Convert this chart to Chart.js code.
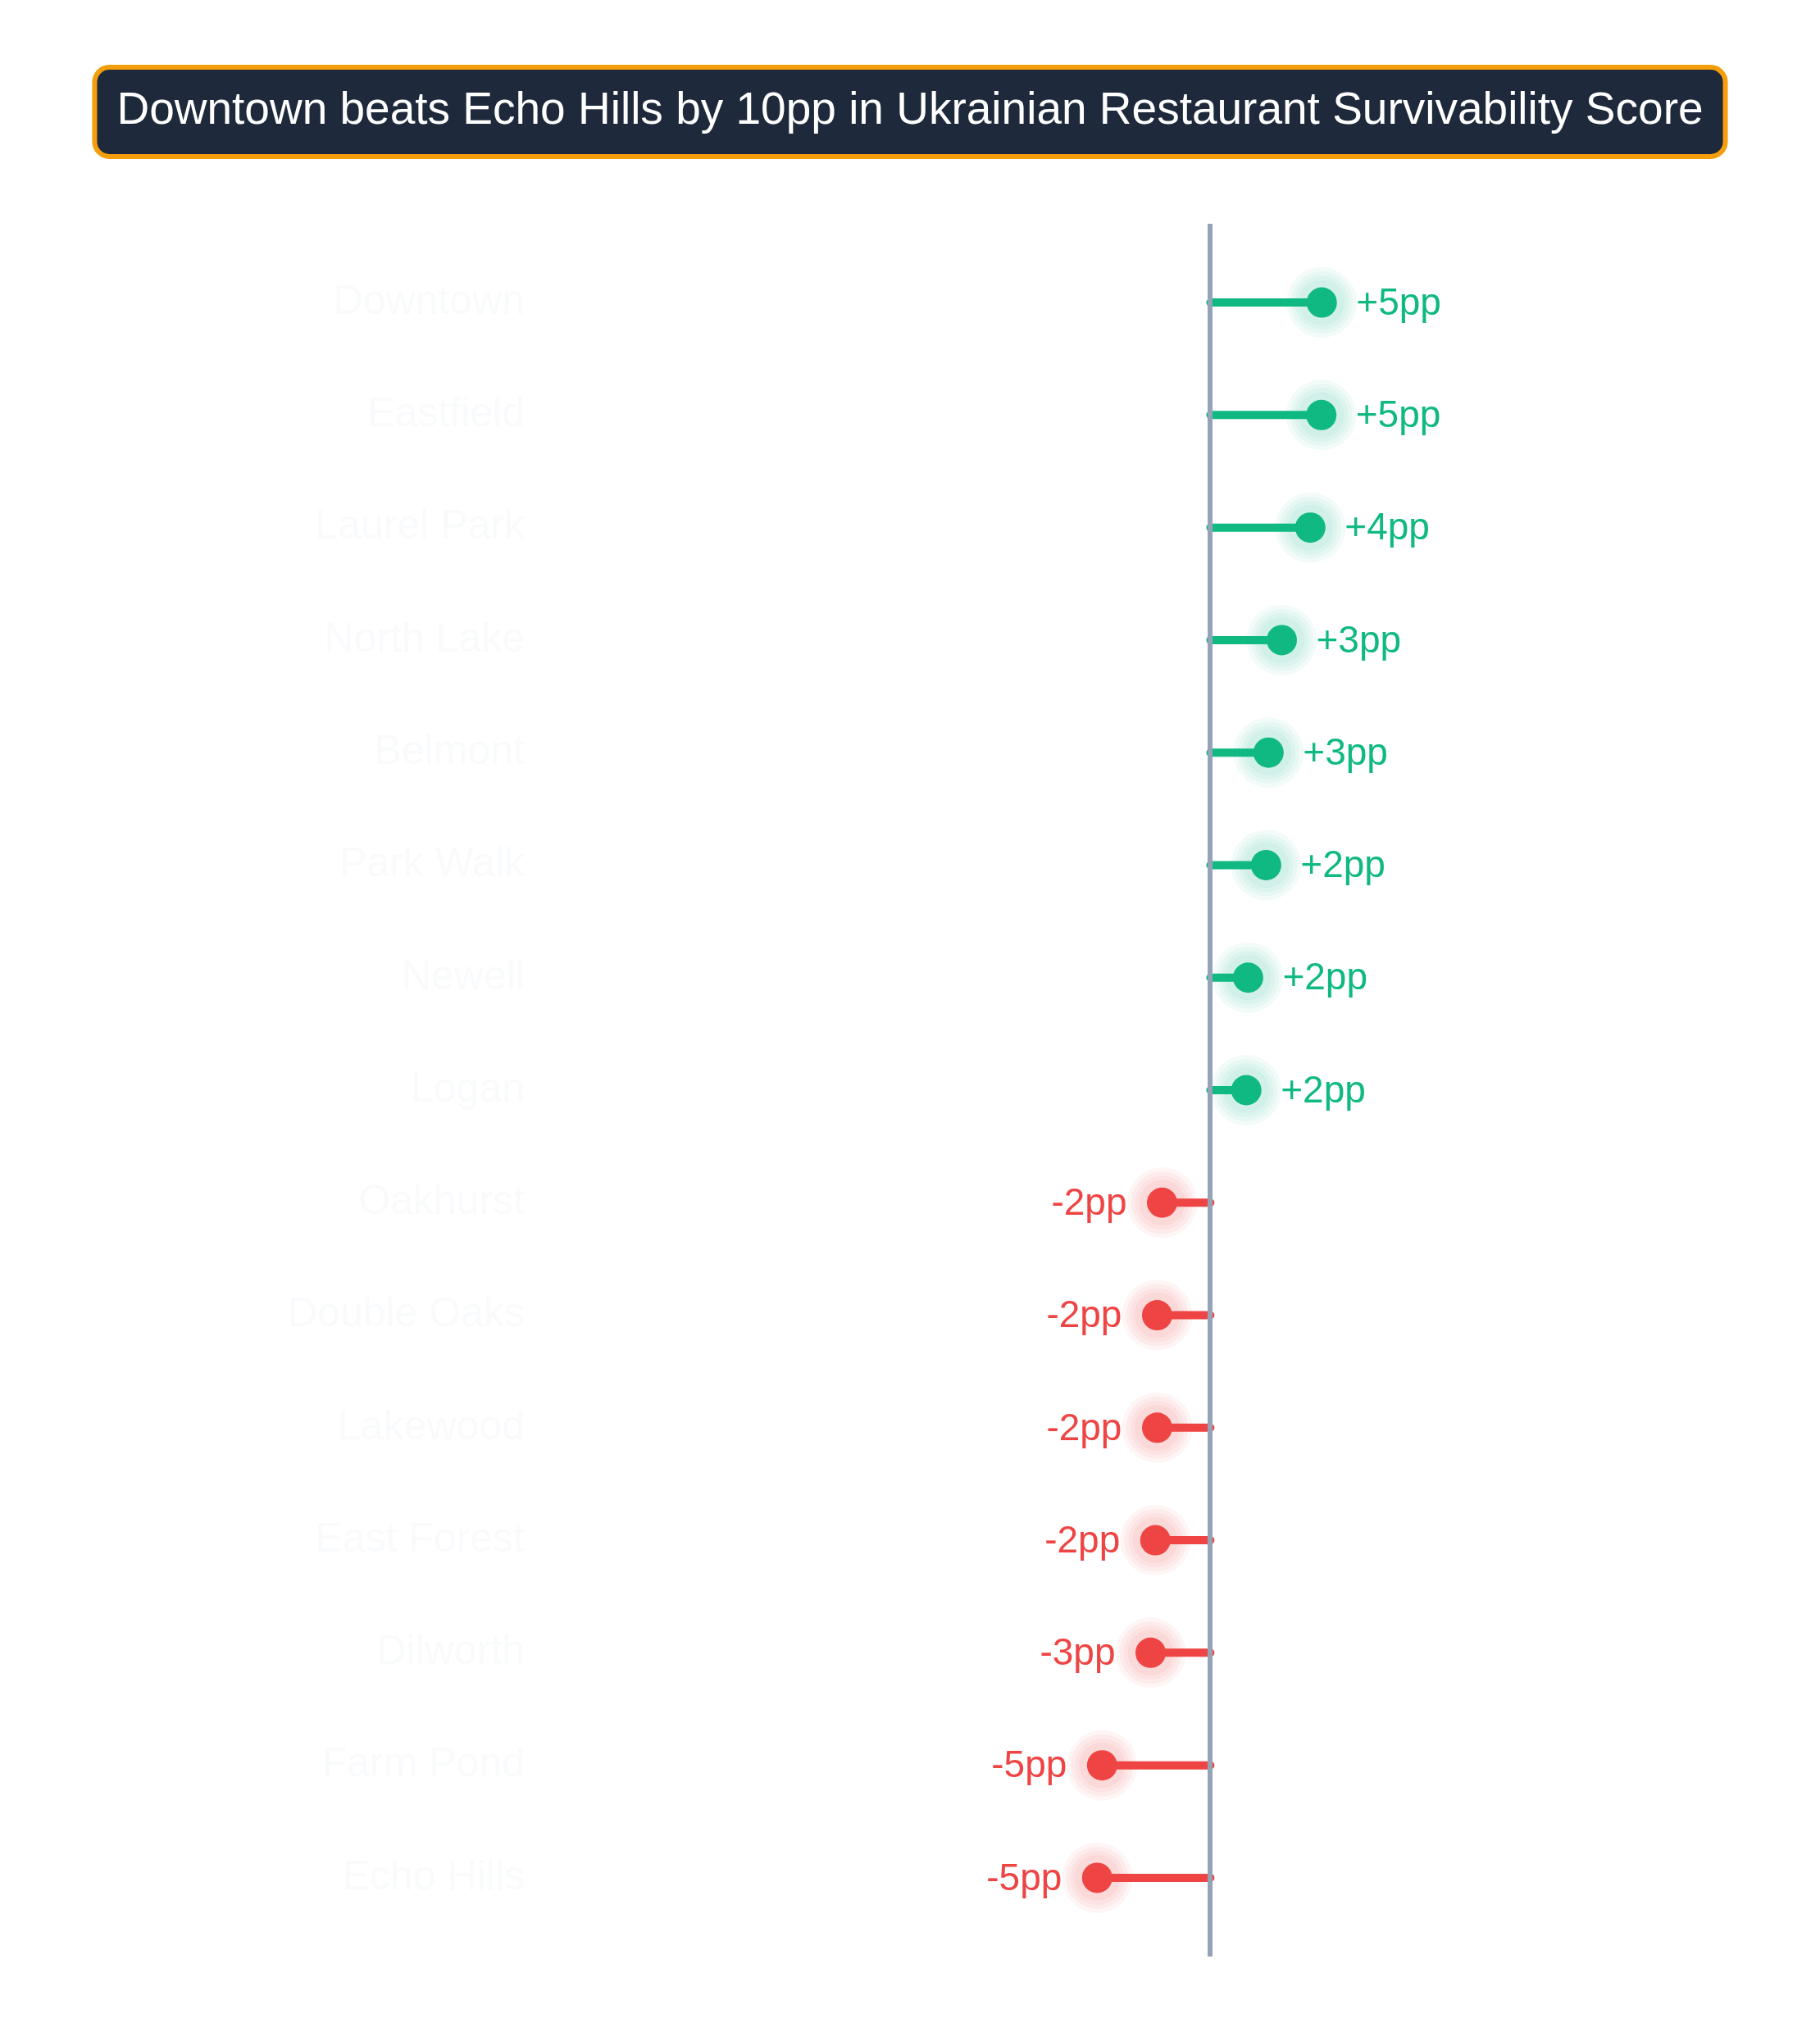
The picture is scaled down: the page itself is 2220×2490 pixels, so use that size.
<!DOCTYPE html>
<html>
<head>
<meta charset="utf-8">
<title>Ukrainian Restaurant Survivability Score</title>
<script src="https://cdn.jsdelivr.net/npm/chart.js@4.4.1/dist/chart.umd.min.js"></script>
<style>
  html, body { margin: 0; padding: 0; background: #ffffff; }
  #chart_box { width: 2220px; height: 2490px; position: relative; }
</style>
</head>
<body>
<div id="chart_box"><canvas id="gapChart"></canvas></div>
<script>
/*
----------------------
Data
----------------------

*/
var chart_title = "Downtown beats Echo Hills by 10pp in Ukrainian Restaurant Survivability Score";

var neighborhoods = [
  "Downtown",
  "Eastfield",
  "Laurel Park",
  "North Lake",
  "Belmont",
  "Park Walk",
  "Newell",
  "Logan",
  "Oakhurst",
  "Double Oaks",
  "Lakewood",
  "East Forest",
  "Dilworth",
  "Farm Pond",
  "Echo Hills"
];

// gap to the average, in percentage points
var score_gaps = [4.96, 4.94, 4.45, 3.18, 2.59, 2.48, 1.68, 1.60, -2.15, -2.37, -2.37, -2.45, -2.66, -4.82, -5.04];

var green = "#10b981";
var red = "#ef4444";

function halo_color(value, alpha) {
  return value >= 0 ? "rgba(16,185,129," + alpha + ")" : "rgba(239,68,68," + alpha + ")";
}

/*
----------------------
Builds points for the lollipop parts
----------------------

*/
function build_dots() {
  var points = [];
  for (var i = 0; i < score_gaps.length; i++) {
    points.push({ x: score_gaps[i], y: i });
  }
  return points;
}

// stems from zero to the value, split by a null point so each row is its own line
function build_stems(positive) {
  var points = [];
  for (var i = 0; i < score_gaps.length; i++) {
    var value = score_gaps[i];
    if ((value >= 0) !== positive) {
      continue;
    }
    points.push({ x: 0, y: i });
    points.push({ x: value, y: i });
    points.push({ x: 0, y: null });
  }
  return points;
}

function build_halo(radius, alpha) {
  return {
    data: build_dots(),
    pointRadius: radius,
    pointHoverRadius: radius,
    pointBorderWidth: 0,
    pointBackgroundColor: score_gaps.map(function (v) { return halo_color(v, alpha); }),
    order: 3
  };
}

function build_stem_dataset(positive) {
  return {
    data: build_stems(positive),
    showLine: true,
    spanGaps: false,
    borderColor: positive ? green : red,
    borderWidth: 10,
    borderCapStyle: "round",
    tension: 0,
    pointRadius: 0,
    pointHoverRadius: 0,
    order: 1
  };
}

var font_family = "'Liberation Sans', Arial, Helvetica, sans-serif";
var title_size = 55;

/*
----------------------
Dark rounded box behind the title
----------------------

*/
var title_box_plugin = {
  id: "title_box",
  beforeDraw: function (chart) {
    var block = chart.titleBlock;
    if (!block) {
      return;
    }
    var ctx = chart.ctx;
    ctx.save();
    ctx.font = title_size + "px " + font_family;
    var text_width = ctx.measureText(chart_title).width;
    var box_width = text_width + 60;
    var box_height = 115;
    var box_left = (chart.width - box_width) / 2;
    var box_top = block.top;

    ctx.beginPath();
    ctx.roundRect(box_left + 3, box_top + 3, box_width - 6, box_height - 6, 18);
    ctx.fillStyle = "#1e293b";
    ctx.fill();
    ctx.lineWidth = 6;
    ctx.strokeStyle = "#f59e0b";
    ctx.stroke();
    ctx.restore();
  }
};

/*
----------------------
"+5pp" style labels next to each dot
----------------------

*/
var value_label_plugin = {
  id: "value_labels",
  afterDatasetsDraw: function (chart) {
    var meta = chart.getDatasetMeta(0);
    var ctx = chart.ctx;
    ctx.save();
    ctx.font = "46px " + font_family;
    ctx.textBaseline = "middle";
    meta.data.forEach(function (point, i) {
      var value = score_gaps[i];
      var rounded = Math.round(value);
      var text = (value >= 0 ? "+" : "") + rounded + "pp";
      ctx.fillStyle = value >= 0 ? green : red;
      if (value >= 0) {
        ctx.textAlign = "left";
        ctx.fillText(text, point.x + 42, point.y + 2);
      } else {
        ctx.textAlign = "right";
        ctx.fillText(text, point.x - 43, point.y + 2);
      }
    });
    ctx.restore();
  }
};

var context = document.getElementById("gapChart").getContext("2d");

var gap_chart = new Chart(context, {
  type: "scatter",
  data: {
    datasets: [
      {
        data: build_dots(),
        pointRadius: 18.5,
        pointHoverRadius: 18.5,
        pointBorderWidth: 0,
        pointBackgroundColor: score_gaps.map(function (v) { return v >= 0 ? green : red; }),
        order: 0
      },
      build_stem_dataset(true),
      build_stem_dataset(false),
      build_halo(43, 0.05),
      build_halo(38, 0.05),
      build_halo(33, 0.05),
      build_halo(28, 0.05)
    ]
  },
  options: {
    responsive: true,
    maintainAspectRatio: false,
    animation: false,
    layout: {
      padding: { top: 79, right: 119, bottom: 103, left: 119 }
    },
    scales: {
      x: {
        type: "linear",
        min: -29.8,
        max: 22.8,
        afterBuildTicks: function (axis) {
          axis.ticks = [{ value: 0 }];
        },
        ticks: { display: false },
        border: { display: false },
        grid: {
          z: 1,
          drawTicks: false,
          color: "#94a3b8",
          lineWidth: 6
        }
      },
      y: {
        type: "linear",
        reverse: true,
        min: -0.7,
        max: 14.7,
        afterBuildTicks: function (axis) {
          axis.ticks = neighborhoods.map(function (name, i) { return { value: i }; });
        },
        afterFit: function (axis) {
          axis.width = 541;
        },
        border: { display: false },
        grid: { display: false, drawTicks: false },
        ticks: {
          padding: 20,
          color: "#f8fafc",
          font: { family: font_family, size: 50 },
          callback: function (value) {
            return neighborhoods[value] || "";
          }
        }
      }
    },
    plugins: {
      legend: { display: false },
      tooltip: { enabled: false },
      title: {
        display: true,
        text: chart_title,
        color: "#ffffff",
        font: { family: font_family, size: title_size, weight: "normal", lineHeight: 1.2 },
        padding: { top: 24, bottom: 104 }
      }
    }
  },
  plugins: [title_box_plugin, value_label_plugin]
});
</script>
</body>
</html>
